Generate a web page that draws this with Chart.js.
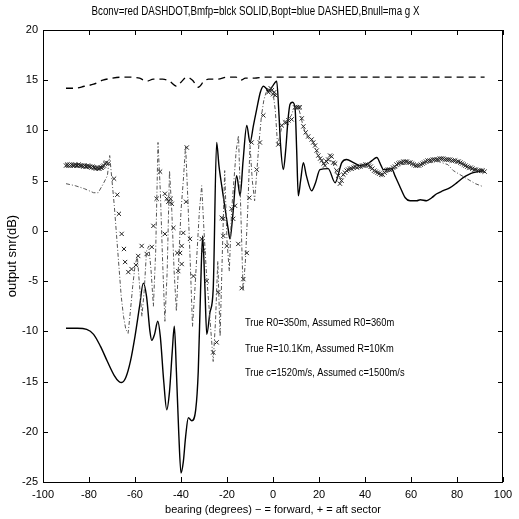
<!DOCTYPE html>
<html>
<head>
<meta charset="utf-8">
<script src="https://cdn.jsdelivr.net/npm/chart.js@4.4.1/dist/chart.umd.min.js"></script>
<style>
  html, body { margin: 0; padding: 0; background: #fff; }
  #wrap { width: 519px; height: 519px; }
</style>
</head>
<body>
<div id="wrap"><canvas id="snr"></canvas></div>
<script>
// Bopt (dashed)
var optX = [-90, -86, -82, -78, -74, -70, -66, -62, -58, -55, -52, -48, -45, -42, -40, -37.5, -35, -32.5, -30, -28, -24, -20, -16, -14, -12, -8, -4, 0, 10, 20, 30, 40, 50, 60, 70, 80, 92];
var optY = [14.2, 14.2, 14.4, 14.6, 15.0, 15.2, 15.3, 15.3, 15.2, 14.9, 15.1, 15.1, 14.9, 14.4, 14.8, 15.3, 15.0, 14.3, 14.9, 15.1, 15.1, 15.3, 15.3, 15.0, 15.2, 15.2, 15.3, 15.3, 15.3, 15.3, 15.3, 15.3, 15.3, 15.3, 15.3, 15.3, 15.3];

// Bmfp (solid)
var mfpX = [-90, -85, -81, -78, -75, -72, -69, -67, -65.8, -64, -62, -60, -58, -56.4, -55, -53.5, -52.7, -51.5, -50.1, -49, -47.5, -46.2, -45, -43.8, -42.9, -42, -41, -40, -39, -38, -36.8, -35.3, -33.6, -32.5, -31.5, -30.6, -29.7, -28.8, -27.4, -26, -24.5, -23.5, -22.3, -21, -19.5, -18.7, -17.5, -15.8, -14.3, -13, -11.4, -10, -8.5, -7.1, -5.5, -4.2, -3, -2, -0.5, 1.6, 2.5, 3.3, 4.5, 5.5, 6.5, 7.4, 8.5, 9.6, 10.3, 11, 12, 13.2, 14.5, 16.8, 18.5, 20.4, 24, 27, 29.9, 32, 35, 38, 40.7, 43, 45.1, 47, 48, 51.6, 53, 55, 57.5, 59.6, 62.5, 64, 66.8, 69, 71.2, 74, 77, 80, 82.7, 85, 87.1, 89, 91.4];
var mfpY = [-9.7, -9.7, -9.8, -10.3, -11.5, -13, -14.4, -15, -15.1, -14.6, -13, -10.5, -7.5, -5.2, -6.5, -10, -10.9, -10.3, -9.0, -10.5, -15, -17.8, -16, -12, -9.5, -14, -20, -24.1, -23, -20.5, -18.6, -18.9, -17.8, -14, -6, -0.5, -5, -10.3, -8.1, -5.8, 8.8, 6.5, 4.5, 2.5, 0.2, -0.8, 1.5, 5.5, 3.5, 7, 10.5, 8.8, 10.5, 12.1, 13.8, 14.4, 14.2, 13.9, 14.3, 14.9, 12, 8.5, 6.1, 8, 11, 12.6, 12.8, 12.2, 8, 3.5, 5, 6.8, 5.5, 4.0, 4.8, 6.1, 6.2, 4.8, 6.8, 7.1, 6.8, 6.5, 6.6, 7.0, 7.3, 6.5, 6.1, 6.2, 5.5, 4.5, 3.3, 3.0, 3.0, 3.1, 3.0, 3.3, 3.7, 4.0, 4.3, 4.8, 5.3, 5.6, 5.8, 5.9, 6.0];

// Bconv (dash-dot)
var convX = [-90, -86, -82, -78, -76, -74, -72, -71, -70, -69, -68, -67, -66, -65, -64, -63, -62, -61, -60, -59, -58, -57, -56, -55, -54, -53, -52, -51, -50, -49, -48, -47, -46, -45, -44, -43, -42, -41, -40, -39, -38, -37, -36, -35, -34, -33, -32, -31, -30, -29, -28, -27, -26, -25, -24, -23, -22, -21, -20, -19, -18, -17, -16, -15, -14, -13, -12, -11, -10, -9, -8, -7, -6, -5, -4, -3, -2, -1, 0, 1, 2, 3, 4, 5, 6, 7, 8, 9, 10, 11, 12, 13, 14, 15, 16, 17, 18, 19, 20, 22, 24, 26, 28, 30, 32, 36, 40, 44, 48, 52, 56, 60, 64, 68, 72, 76, 78.4, 83.5, 88, 91.4];
var convY = [4.7, 4.5, 4.2, 3.8, 3.8, 4.6, 5.5, 7.5, 5.0, 2.5, -0.5, -3.5, -6.5, -8.5, -9.8, -10.2, -8, -5.5, -3.5, -2.5, -5.5, -8.5, -6, -2, -1.5, -4, -7.5, -2, 8.8, 4, -3, -9, -4, 6, 2, -4, -8, -3, 2, 5, 8.5, 3, -3, -9.5, -6, -2, 2, 4.5, 0, -4, -7, -10, -13, -9, -3, -10.5, -2, 6, -1, -4, 2, 5, 8, 9.5, 2, -6, -3, 2, 8.5, 5, 3, 6, 9, 11.5, 13, 13.8, 14, 14.2, 13.8, 12, 8.5, 9.5, 10.5, 10.8, 11, 11.2, 11.5, 12.2, 12.3, 12.3, 11.5, 10.5, 9.8, 9.3, 9.1, 8.8, 8.5, 7.8, 7.3, 6.7, 7.2, 6.8, 5.3, 5.2, 6.0, 6.3, 6.5, 6.0, 5.7, 6.1, 6.6, 6.7, 6.5, 6.8, 6.9, 6.6, 6.0, 5.3, 4.7, 4.4];

// Bnull (x markers)
var nullX = [-90, -89.5, -89, -88.5, -88, -87.5, -87, -86.5, -86, -85.5, -85, -84.5, -84, -83.5, -83, -82.5, -82, -81.5, -81, -80.5, -80, -79.5, -79, -78.5, -78, -77.5, -77, -76.5, -76, -75.5, -75, -74.5, -74, -73.5, -73, -72.5,
  -71.6, -69.1, -67.7, -67, -65.8, -64.8, -64.3, -62.9, -61.5, -59.6, -58.6, -57.1, -54.9, -52.7, -52, -50.6, -49.1, -47, -46.2, -45.5, -44.5, -44, -47, -43.3, -41.6, -41.2, -40.4, -39.7, -39.7, -39, -37.8, -37.5, -36.1, -34.6, -31, -30.3, -28.8, -26, -24.5, -23.8, -22.3, -21.6, -21.6, -20.1, -18, -17.3, -16.5, -15.1, -13.6, -12.9, -11.4, -10.3, -9.3, -7.1, -5.7, -4.2, -2, -1.5, -1, -0.5, 0,
  0.5, 1, 2.3, 3.8, 5.2, 5.9, 6.7, 8.1, 9.6, 10.3, 11, 11.7, 12.5, 13.2, 14.2, 15.3, 16.8, 17.5, 18.3, 19, 19.7, 20.5, 21.2, 22, 22.6, 23.3, 24, 24.8, 25.5, 26.2, 27, 27.7, 28.4, 29.1, 29.8, 30.6, 31.3, 32, 32.7, 33.5, 34.2, 35, 35.7, 36.5, 37.2, 38, 38.8, 39.5, 40.2, 41, 41.7, 42.5, 43.2, 44, 44.7, 45.5, 46.2, 47, 47.7, 48.5, 49.2, 50, 50.7, 51.5, 52.2, 53, 53.7, 54.5, 55.2, 56, 56.7, 57.5, 58.2, 59, 59.7, 60.5, 61.2, 62, 62.7, 63.5, 64.2, 65, 65.7, 66.5, 67.2, 68, 68.7, 69.5, 70.2, 71, 71.7, 72.5, 73.2, 74, 74.7, 75.5, 76.2, 77, 77.7, 78.5, 79.2, 80, 80.7, 81.5, 82.2, 83, 83.7, 84.5, 85.2, 86, 86.7, 87.5, 88.2, 89, 89.7, 90.5, 91.2, 92];
var nullY = [6.5, 6.6, 6.5, 6.6, 6.5, 6.6, 6.5, 6.5, 6.6, 6.5, 6.5, 6.6, 6.5, 6.5, 6.5, 6.4, 6.5, 6.4, 6.4, 6.5, 6.4, 6.4, 6.3, 6.4, 6.3, 6.3, 6.2, 6.3, 6.2, 6.2, 6.3, 6.3, 6.4, 6.5, 6.7, 6.8,
  6.7, 5.2, 3.6, 1.7, -0.3, -1.8, -3.1, -4.1, -3.8, -3.4, -2.5, -1.5, -2.3, -1.6, 0.5, 3.2, 5.9, 3.7, 3.2, 2.9, 3.2, 2.7, -0.3, 0.3, -2.2, -4.0, -2.2, -1.5, -3.3, -0.2, 2.9, 8.3, -0.8, -4.5, -0.8, -2.0, -5.0, -12.1, -11.1, -6.1, 1.3, -0.5, 1.2, -1.5, 2.2, 1.2, 2.5, -1.3, -5.7, -4.8, -2.2, 3.3, 8.8, 6.1, 8.8, 11.5, 13.8, 14.0, 14.2, 14.0, 13.6,
  13.8, 13.5, 8.6, 10.5, 10.8, 10.8, 11.0, 11.1, 12.3, 12.3, 12.3, 12.3, 11.2, 10.4, 9.8, 9.4, 9.1, 8.8, 8.5, 8.0, 7.5, 7.2, 7.0, 6.7, 6.5, 6.9, 7.1, 7.5, 7.4, 6.8, 6.7, 6.0, 5.5, 4.7, 5.0, 5.6, 5.8, 6.0, 6.1, 6.2, 6.2, 6.3, 6.4, 6.3, 6.4, 6.4, 6.5, 6.5, 6.6, 6.6, 6.5, 6.4, 6.2, 6.0, 5.9, 5.8, 5.7, 5.6, 5.6, 5.8, 6.0, 6.1, 6.1, 6.1, 6.3, 6.4, 6.6, 6.7, 6.8, 6.8, 6.9, 6.9, 6.9, 6.8, 6.8, 6.7, 6.6, 6.5, 6.5, 6.5, 6.6, 6.7, 6.8, 6.9, 7.0, 7.0, 7.0, 7.1, 7.1, 7.1, 7.1, 7.2, 7.2, 7.2, 7.1, 7.1, 7.1, 7.1, 7.0, 7.0, 7.0, 6.9, 6.9, 6.8, 6.7, 6.6, 6.5, 6.4, 6.3, 6.3, 6.2, 6.1, 6.1, 6.0, 6.0, 6.0, 6.0, 5.9];

var xTicks = [-100, -80, -60, -40, -20, 0, 20, 40, 60, 80, 100];
var yTicks = [-25, -20, -15, -10, -5, 0, 5, 10, 15, 20];

var titleText = 'Bconv=red DASHDOT,Bmfp=blck SOLID,Bopt=blue DASHED,Bnull=ma g X';
var notes = [
	{ text: 'True R0=350m, Assumed R0=360m', x: -12.2, y: -9.2 },
	{ text: 'True R=10.1Km, Assumed R=10Km', x: -12.2, y: -11.7 },
	{ text: 'True c=1520m/s, Assumed c=1500m/s', x: -12.2, y: -14.1 }
];

function pairs(xs, ys) {
	return xs.map(function(v, i) { return { x: v, y: ys[i] }; });
}

var FONT = '"Liberation Sans", Arial, sans-serif';
Chart.defaults.font.family = FONT;
Chart.defaults.color = '#000';

// draw text squeezed sideways, like the narrow scanned font
function narrowText(ctx, text, x, y, size, squeeze, align) {
	ctx.save();
	ctx.font = size + 'px ' + FONT;
	ctx.textBaseline = 'middle';
	ctx.textAlign = 'left';
	var w = ctx.measureText(text).width * squeeze;
	var x0 = align === 'center' ? x - w / 2 : x;
	ctx.translate(x0, y);
	ctx.scale(squeeze, 1);
	ctx.fillText(text, 0, 0);
	ctx.restore();
}

// MATLAB-like box with inward ticks, plus title and notes
var boxPlugin = {
	id: 'box',
	afterDraw: function(chart) {
		var ctx = chart.ctx, a = chart.chartArea;
		var xs = chart.scales.x, ys = chart.scales.y;
		ctx.save();
		ctx.strokeStyle = '#000';
		ctx.lineWidth = 1;
		ctx.strokeRect(Math.round(a.left) + 0.5, Math.round(a.top) + 0.5, Math.round(a.right - a.left) - 1, Math.round(a.bottom - a.top));
		ctx.beginPath();
		xTicks.forEach(function(t) {
			var p = Math.round(xs.getPixelForValue(t)) + 0.5;
			ctx.moveTo(p, a.bottom); ctx.lineTo(p, a.bottom - 5);
			ctx.moveTo(p, a.top); ctx.lineTo(p, a.top + 5);
		});
		yTicks.forEach(function(t) {
			var p = Math.round(ys.getPixelForValue(t)) + 0.5;
			ctx.moveTo(a.left, p); ctx.lineTo(a.left + 5, p);
			ctx.moveTo(a.right, p); ctx.lineTo(a.right - 5, p);
		});
		ctx.stroke();
		ctx.fillStyle = '#000';
		narrowText(ctx, titleText, chart.width / 2 - 4, 12, 12.5, 0.78, 'center');
		notes.forEach(function(n) {
			narrowText(ctx, n.text, xs.getPixelForValue(n.x), ys.getPixelForValue(n.y), 11.5, 0.81, 'left');
		});
		ctx.restore();
	}
};

var chart = new Chart(document.getElementById('snr'), {
	type: 'scatter',
	data: {
		datasets: [{
			label: 'Bconv',
			data: pairs(convX, convY),
			showLine: true,
			borderColor: '#555',
			borderWidth: 1,
			borderDash: [4, 2, 1, 2],
			pointRadius: 0,
			tension: 0
		}, {
			label: 'Bnull',
			data: pairs(nullX, nullY),
			showLine: false,
			pointStyle: 'crossRot',
			pointRadius: 3,
			borderColor: '#222',
			borderWidth: 1
		}, {
			label: 'Bopt',
			data: pairs(optX, optY),
			showLine: true,
			borderColor: '#000',
			borderWidth: 1.3,
			borderDash: [7, 5],
			pointRadius: 0,
			cubicInterpolationMode: 'monotone'
		}, {
			label: 'Bmfp',
			data: pairs(mfpX, mfpY),
			showLine: true,
			borderColor: '#000',
			borderWidth: 1.4,
			pointRadius: 0,
			cubicInterpolationMode: 'monotone'
		}]
	},
	options: {
		responsive: true,
		maintainAspectRatio: false,
		animation: false,
		layout: { padding: { left: 0, right: 16, top: 30, bottom: 0 } },
		plugins: {
			legend: { display: false },
			tooltip: { enabled: false },
			title: { display: false }
		},
		scales: {
			x: {
				type: 'linear',
				min: -100,
				max: 100,
				afterBuildTicks: function(s) { s.ticks = xTicks.map(function(v) { return { value: v }; }); },
				afterFit: function(s) { s.height = 37; },
				grid: { display: false, drawTicks: false },
				border: { display: false },
				ticks: { font: { size: 11 }, padding: 6, color: '#000', maxRotation: 0 },
				title: {
					display: true,
					text: 'bearing (degrees) \u2212 = forward, + = aft sector',
					font: { size: 11 },
					padding: { top: 0, bottom: 2.4 }
				}
			},
			y: {
				type: 'linear',
				min: -25,
				max: 20,
				afterBuildTicks: function(s) { s.ticks = yTicks.map(function(v) { return { value: v }; }); },
				afterFit: function(s) { s.width = 43; },
				grid: { display: false, drawTicks: false },
				border: { display: false },
				ticks: { font: { size: 11 }, padding: 5, color: '#000' },
				title: {
					display: true,
					text: 'output snr(dB)',
					font: { size: 13 },
					padding: { top: 5, bottom: 0 }
				}
			}
		}
	},
	plugins: [boxPlugin]
});
</script>
</body>
</html>
